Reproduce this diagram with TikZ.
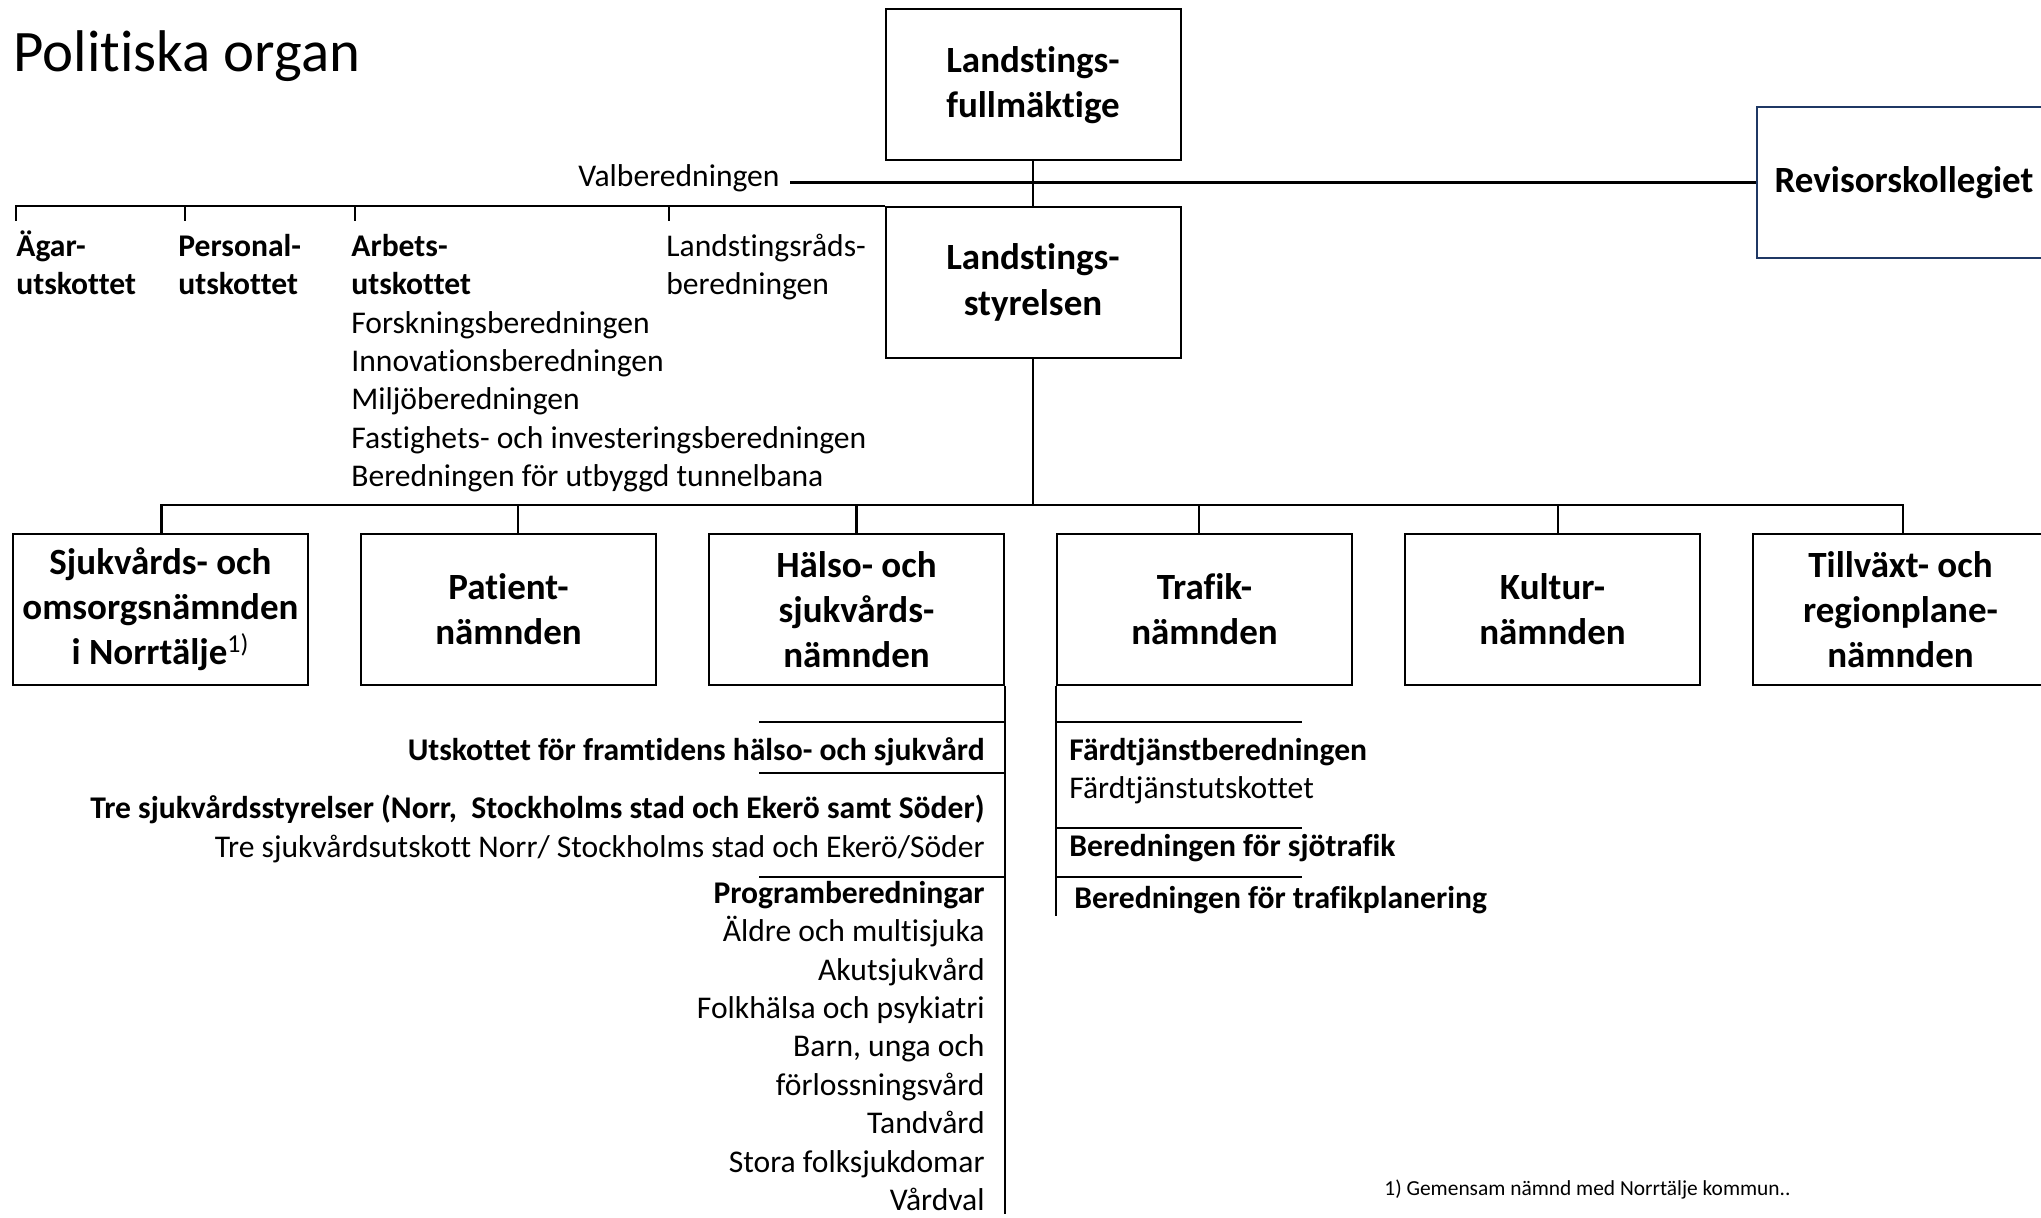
\documentclass[tikz,border=0pt]{standalone}
\usepackage{fontspec}
\setmainfont{Carlito}[Ligatures={TeX,NoCommon}]
\definecolor{revblue}{RGB}{31,56,100}
\newcommand\lstfont{\fontsize{15.8}{19.2}\selectfont}
\newcommand\boxfont{\fontsize{18.5}{22.6}\selectfont\bfseries}

\begin{document}
\begin{tikzpicture}[x=0.5pt,y=-0.5pt,
  organ/.style={draw,line width=1pt,minimum width=147.5pt,minimum height=75.5pt,inner sep=0pt,align=center,font=\boxfont},
  listtext/.style={inner sep=0pt,font=\lstfont},
  boldtext/.style={inner sep=0pt,font=\lstfont\bfseries},
  utskott/.style={listtext,inner ysep=4pt,anchor=north west,align=left},
  busline/.style={line width=1.1pt},
  thinline/.style={line width=0.7pt}]
\useasboundingbox (0,0) rectangle (2041,1218);

\node[anchor=base west,inner sep=0pt,font=\fontsize{29.4}{34}\selectfont] (title) at (13,72) {Politiska organ};

\node[organ]               (LF)         at (1033,  85  ) {Landstings-\\fullmäktige};
\node[organ]               (LS)         at (1033, 282.5) {Landstings-\\styrelsen};
\node[organ,draw=revblue]  (rev)        at (1904, 182.5) {Revisorskollegiet};

\node[organ]               (sjukomsorg) at ( 160.5,609.5) {Sjukvårds- och\\omsorgsnämnden\\i Norrtälje\textsuperscript{\mdseries 1)}};
\node[organ]               (patient)    at ( 508.5,609.5) {Patient-\\nämnden};
\node[organ]               (halso)      at ( 856.5,609.5) {Hälso- och\\sjukvårds-\\nämnden};
\node[organ]               (trafik)     at (1204.5,609.5) {Trafik-\\nämnden};
\node[organ]               (kultur)     at (1552.5,609.5) {Kultur-\\nämnden};
\node[organ]               (tillvaxt)   at (1900.5,609.5) {Tillväxt- och\\regionplane-\\nämnden};

\node[listtext,inner xsep=5pt,anchor=east] (valb) at (790,178) {Valberedningen};

\node[utskott] (agar)   at ( 16,221) {\strut\textbf{Ägar-}\\\textbf{utskottet}};
\node[utskott] (pers)   at (178,221) {\strut\textbf{Personal-}\\\textbf{utskottet}};
\node[utskott] (arbets) at (351,221) {\strut\textbf{Arbets-}\\\textbf{utskottet}\\Forskningsberedningen\\Innovationsberedningen\\Miljöberedningen\\Fastighets- och investeringsberedningen\\Beredningen för utbyggd tunnelbana};
\node[utskott] (lsrb)   at (666,221) {\strut Landstingsråds-\\beredningen};

\node[boldtext,anchor=east]             (utsk) at (985, 752) {Utskottet för framtidens hälso- och sjukvård};
\node[listtext,anchor=east,align=right] (tre)  at (985, 829) {\textbf{Tre sjukvårdsstyrelser (Norr,~ Stockholms stad och Ekerö samt Söder)}\\Tre sjukvårdsutskott Norr/ Stockholms stad och Ekerö/Söder};
\node[listtext,anchor=east,align=right] (prog) at (985,1046) {\textbf{Programberedningar}\\Äldre och multisjuka\\Akutsjukvård\\Folkhälsa och psykiatri\\Barn, unga och\\förlossningsvård\\Tandvård\\Stora folksjukdomar\\Vårdval};

\node[listtext,anchor=west,align=left]  (fard) at (1069,771) {\textbf{Färdtjänstberedningen}\\Färdtjänstutskottet};
\node[boldtext,anchor=west]             (sjo)  at (1069,848) {Beredningen för sjötrafik};
\node[boldtext,anchor=west]             (plan) at (1074,900) {Beredningen för trafikplanering};

\node[inner sep=0pt,anchor=west,font=\fontsize{10.7}{13}\selectfont] (note) at (1384,1190) {1) Gemensam nämnd med Norrtälje kommun..};

\draw[thinline] (LF.south) -- (LS.north);
\draw[busline] (valb.east |- rev.west) -- (rev.west);
\foreach \n/\dx in {agar/0,pers/3.5,arbets/2,lsrb/1.5}
  \draw[busline] (LS.north west) -| ([xshift=\dx pt]\n.north west);

\coordinate (bus) at (1033,505);
\draw[thinline] (LS.south) -- (bus);
\foreach \n/\dx in {sjukomsorg/0.5,patient/4.75,halso/0,trafik/-2.75,kultur/2.75,tillvaxt/1.25}
  \draw[busline] (bus) -| ([xshift=\dx pt]\n.north);

\draw[thinline] (halso.south east) -- ++(0,528);
\coordinate (hs1) at (759,722);
\coordinate (hs2) at (759,773);
\coordinate (hs3) at (759,877);
\foreach \c in {hs1,hs2,hs3}
  \draw[busline] (\c) -- (\c -| halso.east);

\draw[thinline] (trafik.south west) -- ++(0,230);
\coordinate (ts1) at (1302,722);
\coordinate (ts2) at (1302,828);
\coordinate (ts3) at (1302,877);
\foreach \c in {ts1,ts2,ts3}
  \draw[busline] (\c -| trafik.west) -- (\c);
\end{tikzpicture}
\end{document}
